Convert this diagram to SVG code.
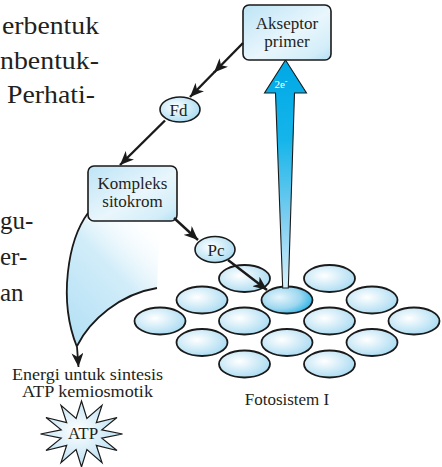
<svg xmlns="http://www.w3.org/2000/svg" width="442" height="467" viewBox="0 0 442 467">
<defs>
<style>
.t{font-family:"Liberation Serif","DejaVu Serif",serif;fill:#231f20}
.para{font-size:25px}
.lbl{font-size:17px;text-anchor:middle}
.box{stroke:#1a1a1a;stroke-width:1.6;fill:url(#boxGrad)}
.pig{stroke:#1a1a1a;stroke-width:1.8;fill:url(#ellGrad)}
.conn{stroke:#1a1a1a;stroke-width:2.4;fill:none;marker-end:url(#ah)}
</style>
<linearGradient id="boxGrad" x1="0" y1="0" x2="1" y2="1">
<stop offset="0" stop-color="#bde4f6"/><stop offset="0.55" stop-color="#e9f6fc"/><stop offset="0.85" stop-color="#d3eef9"/><stop offset="1" stop-color="#b3dff4"/>
</linearGradient>
<radialGradient id="ellGrad" cx="0.4" cy="0.4" r="0.65">
<stop offset="0" stop-color="#ffffff"/><stop offset="1" stop-color="#a9dbf2"/>
</radialGradient>
<radialGradient id="centGrad" cx="0.35" cy="0.4" r="0.7">
<stop offset="0" stop-color="#e6f5fc"/><stop offset="0.6" stop-color="#9dd7f0"/><stop offset="1" stop-color="#27b3e6"/>
</radialGradient>
<linearGradient id="beam" x1="0" y1="60" x2="0" y2="288" gradientUnits="userSpaceOnUse">
<stop offset="0" stop-color="#00a8e6"/><stop offset="0.35" stop-color="#15b5ea"/><stop offset="0.7" stop-color="#7fcef0"/><stop offset="1" stop-color="#d8f1fb"/>
</linearGradient>
<linearGradient id="leafGrad" x1="62" y1="330" x2="165" y2="230" gradientUnits="userSpaceOnUse">
<stop offset="0" stop-color="#b3e0f5"/><stop offset="0.55" stop-color="#d2edf9"/><stop offset="1" stop-color="#ffffff" stop-opacity="0"/>
</linearGradient>
<radialGradient id="starGrad" cx="0.45" cy="0.45" r="0.6">
<stop offset="0" stop-color="#ffffff"/><stop offset="1" stop-color="#b3ddf2"/>
</radialGradient>
<marker id="ah" viewBox="0 0 14 12" refX="14" refY="6" markerWidth="14" markerHeight="12" markerUnits="userSpaceOnUse" orient="auto">
<path d="M0,0 L14,6 L0,12 L4,6 Z" fill="#1a1a1a"/>
</marker>
</defs>

<g id="paragraph">
<text class="t para" x="2" y="34" textLength="97" lengthAdjust="spacingAndGlyphs">erbentuk</text>
<text class="t para" x="0" y="69" textLength="99" lengthAdjust="spacingAndGlyphs">nbentuk-</text>
<text class="t para" x="7" y="103" textLength="88" lengthAdjust="spacingAndGlyphs">Perhati-</text>
<text class="t para" x="0" y="229">gu-</text>
<text class="t para" x="0" y="265">er-</text>
<text class="t para" x="0" y="301">an</text>
</g>

<g id="energi-flow">
<path d="M88,213 C68,240 58,300 77,347 C90,320 120,294 157,288 L160,221 L88,221 Z" fill="url(#leafGrad)"/>
<path d="M157,288 C120,294 90,320 77,346" fill="none" stroke="#1a1a1a" stroke-width="1.8"/>
<path d="M88,213 C68,240 58,300 77,347 L78.5,367" fill="none" stroke="#1a1a1a" stroke-width="1.8" marker-end="url(#ah)"/>
</g>

<g id="fotosistem">
<ellipse class="pig" cx="244.5" cy="278.5" rx="25.5" ry="13.5"/>
<ellipse class="pig" cx="329.5" cy="278.5" rx="25.5" ry="13.5"/>
<ellipse class="pig" cx="202" cy="300" rx="25.5" ry="13.5"/>
<ellipse cx="287" cy="300" rx="25.5" ry="13.5" stroke="#1a1a1a" stroke-width="1.8" fill="url(#centGrad)"/>
<ellipse class="pig" cx="372" cy="300" rx="25.5" ry="13.5"/>
<ellipse class="pig" cx="160" cy="321" rx="25.5" ry="13.5"/>
<ellipse class="pig" cx="244.5" cy="321" rx="25.5" ry="13.5"/>
<ellipse class="pig" cx="329.5" cy="321" rx="25.5" ry="13.5"/>
<ellipse class="pig" cx="414" cy="321" rx="25.5" ry="13.5"/>
<ellipse class="pig" cx="202" cy="342.5" rx="25.5" ry="13.5"/>
<ellipse class="pig" cx="287" cy="342.5" rx="25.5" ry="13.5"/>
<ellipse class="pig" cx="372" cy="342.5" rx="25.5" ry="13.5"/>
<ellipse class="pig" cx="244.5" cy="364" rx="25.5" ry="13.5"/>
<ellipse class="pig" cx="329.5" cy="364" rx="25.5" ry="13.5"/>
<text class="t lbl" x="287" y="405">Fotosistem I</text>
</g>

<g id="beam-2e">
<path d="M285.5,60 L306.5,93 L294.5,93 L288.3,288 L282.7,288 L275.5,93 L264.5,93 Z" fill="url(#beam)" stroke="#1a1a1a" stroke-width="1.1" stroke-linejoin="miter"/>
<text class="t" x="281" y="88" font-size="11" style="fill:#ffffff" text-anchor="middle">2e<tspan dy="-4" font-size="8">-</tspan></text>
</g>

<g id="akseptor-primer">
<rect class="box" x="243" y="5" width="88" height="55" rx="6"/>
<text class="t lbl" x="287" y="29">Akseptor</text>
<text class="t lbl" x="287" y="46.5">primer</text>
</g>

<g id="kompleks-sitokrom">
<rect class="box" x="88" y="166" width="89" height="55" rx="6"/>
<text class="t lbl" x="132.5" y="189">Kompleks</text>
<text class="t lbl" x="132.5" y="206.5">sitokrom</text>
</g>

<g id="fd">
<ellipse cx="180" cy="109.5" rx="20" ry="12.5" stroke="#1a1a1a" stroke-width="1.6" fill="url(#ellGrad)"/>
<text class="t lbl" x="178.5" y="115.5">Fd</text>
</g>

<g id="pc">
<ellipse cx="215" cy="249.5" rx="20" ry="13" stroke="#1a1a1a" stroke-width="1.6" fill="url(#ellGrad)"/>
<text class="t lbl" x="216" y="256">Pc</text>
</g>

<g id="connectors">
<path class="conn" d="M243,43 L214,72.5"/>
<path class="conn" d="M215,71.5 L190,97"/>
<path class="conn" d="M165,120.5 L120,165"/>
<path class="conn" d="M174,218 L198,240"/>
<path class="conn" d="M228,260 L267,290"/>
</g>

<g id="atp">
<text class="t" x="87.5" y="380" font-size="16" text-anchor="middle" textLength="151" lengthAdjust="spacingAndGlyphs">Energi untuk sintesis</text>
<text class="t" x="87.5" y="397" font-size="16" text-anchor="middle" textLength="131" lengthAdjust="spacingAndGlyphs">ATP kemiosmotik</text>
<polygon points="81.5,401 86.9,418.5 102,405.4 96.3,422.7 117,417.5 101.8,429.9 122.5,434 101.8,438.1 117,450.5 96.3,445.3 102,462.6 86.9,449.5 81.5,467 76.1,449.5 61,462.6 66.7,445.3 46,450.5 61.2,438.1 40.5,434 61.2,429.9 46,417.5 66.7,422.7 61,405.4 76.1,418.5" fill="url(#starGrad)" stroke="#1a1a1a" stroke-width="1.2" stroke-linejoin="miter"/>
<text class="t" x="83" y="439" font-size="17" text-anchor="middle">ATP</text>
</g>
</svg>
